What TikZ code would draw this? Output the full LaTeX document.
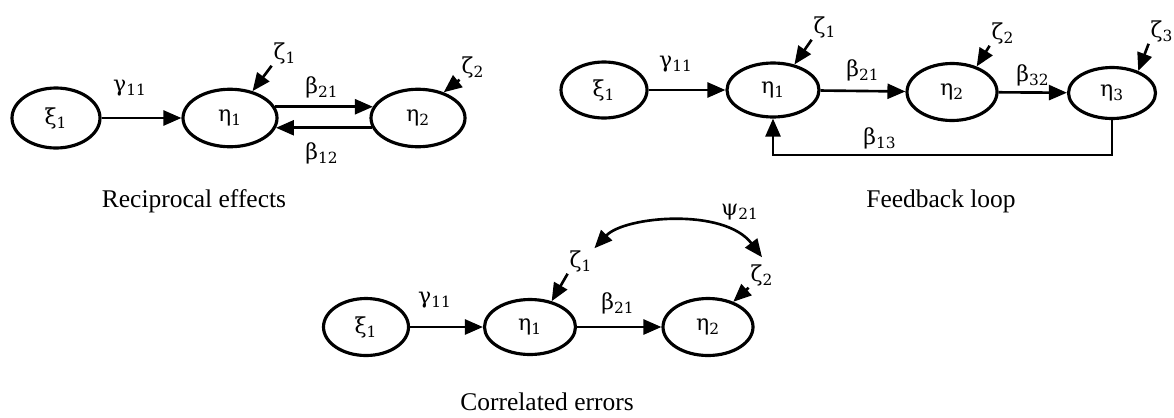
\documentclass[tikz,border=0pt]{standalone}
\usepackage{fontspec}
\setmainfont{Liberation Serif}
\newfontfamily\greekfont{DejaVu Serif}
\usetikzlibrary{arrows.meta,shapes.geometric}
\newcommand{\vsub}[2]{#1\textsubscript{#2}}
\tikzset{
  latent/.style={draw=black,ellipse,line width=1.8pt,inner sep=0pt,
    minimum width=1.84cm,minimum height=1.12cm,font=\greekfont\fontsize{12.5}{14}\selectfont},
  coeflabel/.style={inner sep=1pt,font=\greekfont\fontsize{12.5}{14}\selectfont},
  patharrow/.style={-{Triangle[length=3.6mm,width=3mm]},line width=1.5pt},
  corrarrow/.style={{Triangle[length=3.6mm,width=3mm]}-{Triangle[length=3.6mm,width=3mm]},
    line width=1.5pt},
  captiontext/.style={font=\fontsize{14.5}{17}\selectfont},
}

\begin{document}
\begin{tikzpicture}
  \useasboundingbox (0,0) rectangle (23.48,-8.34);
  % reciprocal effects
  \node[latent,minimum width=1.76cm,minimum height=1.2cm] (xiA) at (1.12,-2.36) {\vsub{ξ}{1}};
  \node[latent,minimum width=1.88cm,minimum height=1.15cm] (etaA1) at (4.6,-2.36) {\vsub{η}{1}};
  \node[latent,minimum width=1.88cm,minimum height=1.15cm] (etaA2) at (8.36,-2.36) {\vsub{η}{2}};
  \node[coeflabel] (gA) at (2.6,-1.76) {\vsub{γ}{11}};
  \node[coeflabel] (bA21) at (6.44,-1.74) {\vsub{β}{21}};
  \node[coeflabel] (bA12) at (6.44,-3.06) {\vsub{β}{12}};
  \node[coeflabel] (zA1) at (5.7,-1.06) {\vsub{ζ}{1}};
  \node[coeflabel] (zA2) at (9.46,-1.34) {\vsub{ζ}{2}};
  \draw[patharrow] (xiA) -- (etaA1);
  \draw[patharrow] (etaA1.14) -- (etaA2.166);
  \draw[patharrow] (etaA2.192) -- (etaA1.348);
  \draw[patharrow] (zA1.south west) -- (etaA1.50);
  \draw[patharrow] (zA2.south west) -- (etaA2.45);
  \node[captiontext] (capA) at (3.88,-4.02) {Reciprocal effects};

  % feedback loop
  \node[latent,minimum width=1.72cm] (xiB) at (12.08,-1.8) {\vsub{ξ}{1}};
  \node[latent,minimum height=1.08cm] (etaB1) at (15.46,-1.8) {\vsub{η}{1}};
  \node[latent,minimum width=1.8cm,minimum height=1.14cm] (etaB2) at (19.04,-1.84) {\vsub{η}{2}};
  \node[latent,minimum width=1.74cm,minimum height=1.02cm] (etaB3) at (22.24,-1.86) {\vsub{η}{3}};
  \node[coeflabel] (gB) at (13.52,-1.28) {\vsub{γ}{11}};
  \node[coeflabel] (bB21) at (17.26,-1.4) {\vsub{β}{21}};
  \node[coeflabel] (bB32) at (20.66,-1.5) {\vsub{β}{32}};
  \node[coeflabel] (bB13) at (17.6,-2.76) {\vsub{β}{13}};
  \node[coeflabel] (zB1) at (16.5,-0.54) {\vsub{ζ}{1}};
  \node[coeflabel] (zB2) at (20.06,-0.66) {\vsub{ζ}{2}};
  \node[coeflabel] (zB3) at (23.24,-0.62) {\vsub{ζ}{3}};
  \draw[patharrow] (xiB) -- (etaB1);
  \draw[patharrow] (etaB1) -- (etaB2);
  \draw[patharrow] (etaB2) -- (etaB3);
  \draw[patharrow] (etaB3.south) -- ++(0,-0.7) -| (etaB1.south);
  \draw[patharrow] (zB1.south west) -- (etaB1.50);
  \draw[patharrow] (zB2.south west) -- (etaB2.46);
  \draw[patharrow] (zB3.south west) -- (etaB3.40);
  \node[captiontext] (capB) at (18.82,-4.02) {Feedback loop};

  % correlated errors
  \node[latent,minimum width=1.7cm,minimum height=1.14cm] (xiC) at (7.32,-6.54) {\vsub{ξ}{1}};
  \node[latent,minimum width=1.82cm,minimum height=1.1cm] (etaC1) at (10.6,-6.54) {\vsub{η}{1}};
  \node[latent,minimum width=1.8cm,minimum height=1.14cm] (etaC2) at (14.16,-6.54) {\vsub{η}{2}};
  \node[coeflabel] (gC) at (8.7,-6.0) {\vsub{γ}{11}};
  \node[coeflabel] (bC21) at (12.36,-6.06) {\vsub{β}{21}};
  \node[coeflabel] (zC1) at (11.62,-5.22) {\vsub{ζ}{1}};
  \node[coeflabel] (zC2) at (15.24,-5.5) {\vsub{ζ}{2}};
  \node[coeflabel] (psiC) at (14.8,-4.24) {\vsub{ψ}{21}};
  \draw[patharrow] (xiC) -- (etaC1);
  \draw[patharrow] (etaC1) -- (etaC2);
  \draw[patharrow] (zC1.south west) -- (etaC1.50);
  \draw[patharrow] (zC2.south west) -- (etaC2.45);
  \draw[corrarrow] (zC1.north east) .. controls +(0.6,0.64) and +(-0.76,1.0) .. ([yshift=1mm]zC2.north);
  \node[captiontext] (capC) at (10.94,-8.04) {Correlated errors};
\end{tikzpicture}
\end{document}
